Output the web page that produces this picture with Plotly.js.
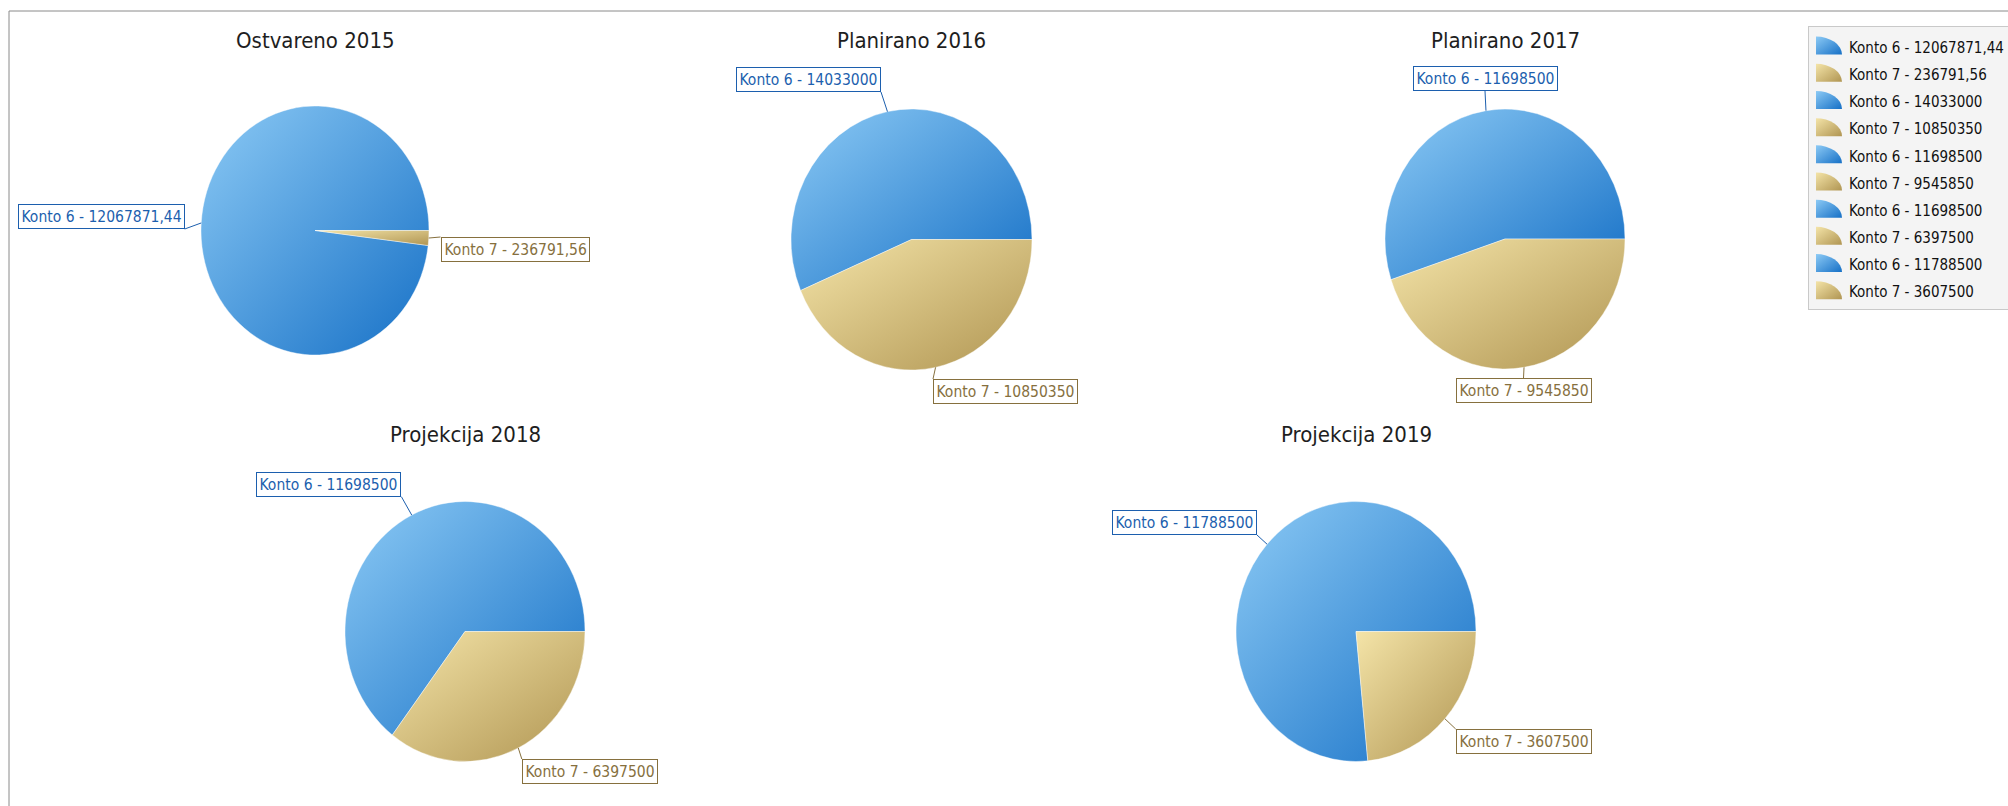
<!DOCTYPE html>
<html>
<head>
<meta charset="utf-8">
<script src="https://cdn.plot.ly/plotly-3.0.1.min.js"></script>
<style>
  html, body { margin: 0; padding: 0; background: #ffffff; overflow: hidden; }
  #chart { width: 2060px; height: 806px; }
  .legend .legendtext { font-size: 15px !important; }
</style>
</head>
<body>
<svg width="0" height="0" style="position:absolute">
  <defs>
    <linearGradient id="sg0" x1="0" y1="0" x2="1" y2="1">
      <stop offset="0" stop-color="#8ccaf5"/>
      <stop offset="1" stop-color="#1670c6"/>
    </linearGradient>
    <linearGradient id="sg1" x1="0" y1="0" x2="1" y2="1">
      <stop offset="0" stop-color="#f4e4a8"/>
      <stop offset="1" stop-color="#b09552"/>
    </linearGradient>
  </defs>
</svg>
<div id="chart"></div>
<script>
// ---------------- data ----------------
const pieTitles = ['Ostvareno 2015', 'Planirano 2016', 'Planirano 2017', 'Projekcija 2018', 'Projekcija 2019'];
const kontoNames = ['Konto 6', 'Konto 7'];
const konto6Values = [12067871.44, 14033000, 11698500, 11698500, 11788500];
const konto7Values = [236791.56, 10850350, 9545850, 6397500, 3607500];

// ---------------- layout / style ----------------
const PW = 2060, H = 806;   // paper a bit wider than the 2008px window so the legend may run off the edge
const FONT = "'DejaVu Sans Condensed', 'Liberation Sans Narrow', 'DejaVu Sans', sans-serif";
const pieGeom = [
  {cx: 315,   cy: 230.5, rx: 114,   ry: 124.5, ty: 41},
  {cx: 911.5, cy: 239.5, rx: 120.5, ry: 130.5, ty: 41},
  {cx: 1505,  cy: 239,   rx: 120,   ry: 130,   ty: 41},
  {cx: 465,   cy: 631.5, rx: 120,   ry: 130,   ty: 434},
  {cx: 1356,  cy: 631.5, rx: 120,   ry: 130,   ty: 434}
];
const labelBoxes = [
  [{x: 184.7, y: 229, xa: 'right', ya: 'bottom'}, {x: 440.5, y: 237, xa: 'left', ya: 'top'}],
  [{x: 881, y: 92, xa: 'right', ya: 'bottom'}, {x: 933, y: 379, xa: 'left', ya: 'top'}],
  [{x: 1485, y: 91, xa: 'center', ya: 'bottom'}, {x: 1523.5, y: 378, xa: 'center', ya: 'top'}],
  [{x: 401.4, y: 496.7, xa: 'right', ya: 'bottom'}, {x: 521.8, y: 759, xa: 'left', ya: 'top'}],
  [{x: 1257, y: 535, xa: 'right', ya: 'bottom'}, {x: 1455.7, y: 729, xa: 'left', ya: 'top'}]
];
const sliceColors = ['#3d95de', '#d6c282'];
const labelColors = ['#1c5fae', '#86703e'];

function fmt(v) { return Number.isInteger(v) ? String(v) : v.toFixed(2).replace('.', ','); }

const traces = [];
const annotations = [];
pieTitles.forEach((title, i) => {
  const vals = [konto6Values[i], konto7Values[i]];
  const labels = kontoNames.map((n, j) => n + ' - ' + fmt(vals[j]));
  const g = pieGeom[i];
  const total = vals[0] + vals[1];
  traces.push({
    type: 'pie', values: vals, labels: labels, sort: false,
    direction: 'counterclockwise',
    // first slice ends at 3 o'clock, running counter-clockwise from there
    rotation: 90 - 360 * vals[0] / total,
    textinfo: 'none', hoverinfo: 'label+percent', legendgroup: 'g' + i,
    marker: {colors: sliceColors, line: {color: 'rgba(255,255,255,0.5)', width: 0.8}},
    domain: {x: [(g.cx - g.rx) / PW, (g.cx + g.rx) / PW], y: [1 - (g.cy + g.rx) / H, 1 - (g.cy - g.rx) / H]}
  });
  annotations.push({
    text: title, xref: 'paper', yref: 'paper', x: g.cx / PW, y: 1 - g.ty / H,
    xanchor: 'center', yanchor: 'middle', showarrow: false,
    font: {family: FONT, size: 22, color: '#1e1e1e'}
  });
  let start = 0;
  vals.forEach((v, j) => {
    const frac = v / total;
    const mid = (start + frac / 2) * 2 * Math.PI;
    start += frac;
    const px = g.cx + g.rx * Math.cos(mid);
    const py = g.cy - g.ry * Math.sin(mid);
    const b = labelBoxes[i][j];
    annotations.push({
      text: labels[j], xref: 'paper', yref: 'paper', x: px / PW, y: 1 - py / H,
      ax: b.x - px, ay: b.y - py, xanchor: b.xa, yanchor: b.ya,
      showarrow: true, arrowhead: 0, arrowwidth: 1, arrowcolor: labelColors[j], standoff: 0,
      bgcolor: '#ffffff', bordercolor: labelColors[j], borderwidth: 1, borderpad: 2.5,
      font: {family: FONT, size: 15.5, color: labelColors[j]}
    });
  });
});

const layout = {
  width: PW, height: H,
  margin: {l: 0, r: 0, t: 0, b: 0, autoexpand: false},
  paper_bgcolor: '#ffffff',
  showlegend: true,
  legend: {
    x: 1808 / PW, y: 1 - 26 / H, xanchor: 'left', yanchor: 'top',
    bgcolor: '#f4f4f4', bordercolor: '#c9c9c9', borderwidth: 1,
    font: {family: FONT, size: 18.6, color: '#111111'},
    tracegroupgap: 0, traceorder: 'grouped'
  },
  annotations: annotations,
  shapes: [{
    type: 'rect', xref: 'paper', yref: 'paper',
    x0: 9 / PW, x1: 1.01, y0: -0.01, y1: 1 - 11 / H,
    line: {color: '#8a8a8a', width: 1}, fillcolor: 'rgba(0,0,0,0)', layer: 'below'
  }]
};

const gd = document.getElementById('chart');
function post() {
  // stretch each round pie vertically into the reference's slight ellipse and add the gradient fills
  gd.querySelectorAll('.pielayer g.trace').forEach((t, i) => {
    const g = pieGeom[i], k = g.ry / g.rx;
    t.setAttribute('transform', 'translate(0,' + (g.cy * (1 - k)) + ') scale(1,' + k + ')');
    t.querySelectorAll('g.slice path.surface').forEach((p, j) => { p.style.fill = 'url(#sg' + j + ')'; });
  });
  gd.querySelectorAll('.legend .traces').forEach((item, n) => {
    const p = item.querySelector('.legendpoints path');
    if (p) {
      p.setAttribute('d', 'M-13,9V-9A26,18 0 0 1 13,9Z');
      p.style.fill = 'url(#sg' + (n % 2) + ')';
      p.style.stroke = 'none';
    }
  });
}
Plotly.newPlot(gd, traces, layout, {displayModeBar: false, staticPlot: true}).then(post);
</script>
</body>
</html>
